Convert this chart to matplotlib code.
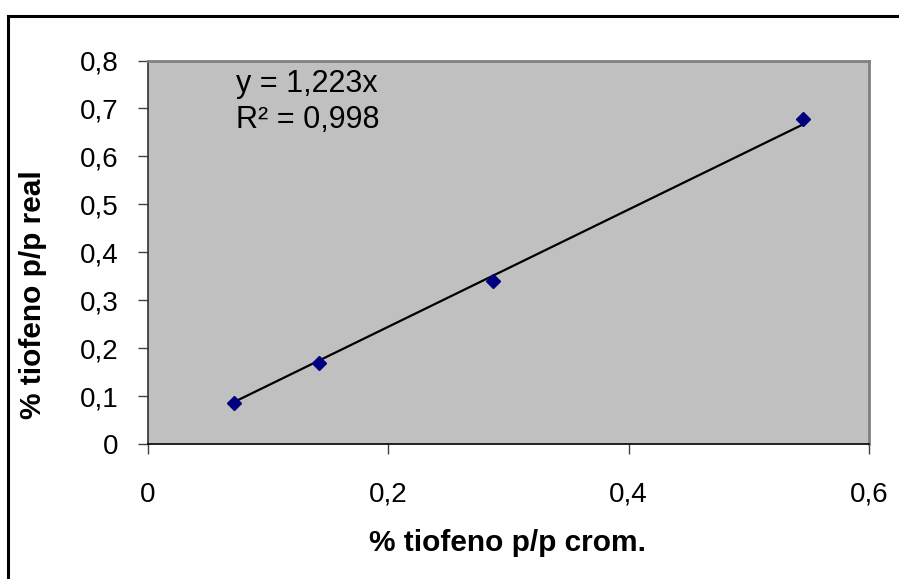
import matplotlib
matplotlib.use("Agg")
import matplotlib.pyplot as plt
from matplotlib.patches import Rectangle
from matplotlib.ticker import FuncFormatter
import numpy as np

plt.rcParams['font.family'] = ['Liberation Sans', 'DejaVu Sans']

# Measured thiophene content (% w/w): chromatographic vs real
x_crom = [0.0716, 0.1426, 0.2874, 0.5448]
y_real = [0.086, 0.168, 0.339, 0.677]
slope = 1.223
r2 = 0.998

x_ticks = [0, 0.2, 0.4, 0.6]
y_ticks = [0, 0.1, 0.2, 0.3, 0.4, 0.5, 0.6, 0.7, 0.8]

W, H = 899, 579
fig = plt.figure(figsize=(W / 100, H / 100), dpi=100)

# outer chart frame
fig.patches.append(Rectangle((8 / W, -0.05), 1.2, 1 - 16 / H + 0.05,
                             transform=fig.transFigure, fill=False,
                             edgecolor='black', linewidth=2.2))

ax = fig.add_axes([148 / W, 1 - 444 / H, (869 - 148) / W, (444 - 60.5) / H])
ax.set_facecolor('#C0C0C0')
ax.set_xlim(0, 0.6)
ax.set_ylim(0, 0.8)

# trendline through origin, drawn over the data range
xs = np.array([min(x_crom), max(x_crom)])
ax.plot(xs, slope * xs, color='black', linewidth=1.6, zorder=2)
ax.plot(x_crom, y_real, linestyle='none', marker='D', markersize=6.8,
        color='#000080', markeredgecolor='#000080', zorder=3)

comma = FuncFormatter(lambda v, p: ('%g' % round(v, 2)).replace('.', ','))
ax.set_xticks(x_ticks)
ax.set_yticks(y_ticks)
ax.xaxis.set_major_formatter(comma)
ax.yaxis.set_major_formatter(comma)
ax.tick_params(axis='y', direction='out', length=7, width=1, color='#404040',
               labelsize=20, pad=14)
ax.tick_params(axis='x', direction='out', length=7, width=1, color='#404040',
               labelsize=20, pad=20)

for s in ('top', 'right'):
    ax.spines[s].set_color('#808080')
    ax.spines[s].set_linewidth(2)
ax.spines['left'].set_color('#303030')
ax.spines['left'].set_linewidth(1.2)
ax.spines['bottom'].set_color('black')
ax.spines['bottom'].set_linewidth(1.2)

ax.set_xlabel('% tiofeno p/p crom.', fontsize=21.5, fontweight='bold', va='center')
ax.set_ylabel('% tiofeno p/p real', fontsize=21.5, fontweight='bold', va='center')
ax.xaxis.set_label_coords(0.498, -0.258)
ax.yaxis.set_label_coords(-0.1595, 0.39)

eq = 'y = %s' % ('%.3fx' % slope).replace('.', ',')
rr = 'R² = %s' % ('%.3f' % r2).replace('.', ',')
ax.text(0.0735, 0.7336, eq, fontsize=22, va='baseline', ha='left')
ax.text(0.0735, 0.660, rr, fontsize=22, va='baseline', ha='left')

fig.savefig('out.png', dpi=100)
